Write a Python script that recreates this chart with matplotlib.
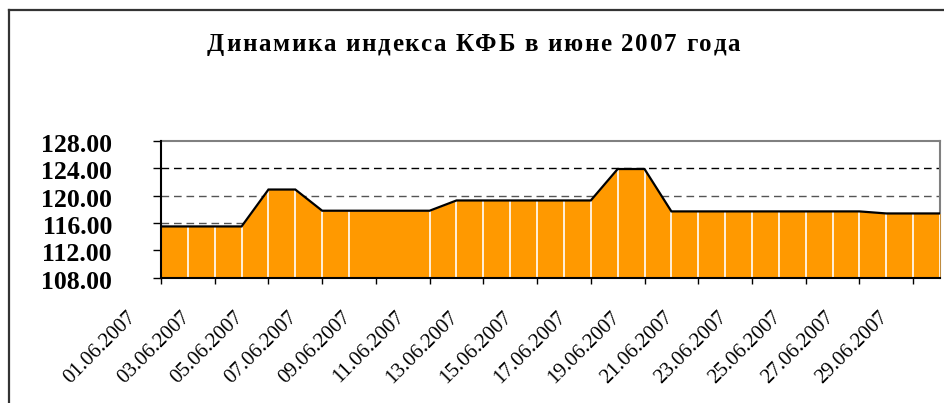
import numpy as np
import matplotlib
matplotlib.use("Agg")
import matplotlib.pyplot as plt
from matplotlib.transforms import ScaledTranslation
from matplotlib.lines import Line2D
from matplotlib import font_manager, ft2font
import datetime as dt

title = "Динамика индекса КФБ в июне 2007 года"
dates = ["01.06.2007", "02.06.2007", "03.06.2007", "04.06.2007", "05.06.2007",
         "06.06.2007", "07.06.2007", "08.06.2007", "11.06.2007", "12.06.2007",
         "13.06.2007", "14.06.2007", "15.06.2007", "16.06.2007", "17.06.2007",
         "18.06.2007", "19.06.2007", "20.06.2007", "21.06.2007", "22.06.2007",
         "23.06.2007", "24.06.2007", "25.06.2007", "26.06.2007", "27.06.2007",
         "28.06.2007", "29.06.2007", "30.06.2007"]
values = [115.5, 115.5, 115.5, 115.5, 120.9,
          120.9, 117.8, 117.8, 117.8, 119.3,
          119.3, 119.3, 119.3, 119.3, 119.3,
          123.9, 123.9, 117.7, 117.7, 117.7,
          117.7, 117.7, 117.7, 117.7, 117.7,
          117.4, 117.4, 117.4]
yticks = [108, 112, 116, 120, 124, 128]
tick_dates = ["01.06.2007", "03.06.2007", "05.06.2007", "07.06.2007", "09.06.2007",
              "11.06.2007", "13.06.2007", "15.06.2007", "17.06.2007", "19.06.2007",
              "21.06.2007", "23.06.2007", "25.06.2007", "27.06.2007", "29.06.2007"]

def to_dt(s):
    return dt.datetime.strptime(s, "%d.%m.%Y")

x = [to_dt(s) for s in dates]
xt = [to_dt(s) for s in tick_dates]

W, H = 944, 403
DPI = 100
fig = plt.figure(figsize=(W / DPI, H / DPI), dpi=DPI)
fig.patch.set_facecolor("white")

ax = fig.add_axes([161 / W, 1 - 277.7 / H, (940 - 161) / W, (277.7 - 141) / H])
ax.set_xlim(to_dt("01.06.2007"), to_dt("30.06.2007"))
ax.set_ylim(108, 128)

ax.fill_between(x, 108, values, color="#FF9900", lw=0, zorder=3)
ax.vlines(x, 108, values, color="white", lw=1.2, zorder=4)
ax.plot(x, values, color="black", lw=1.6, zorder=5, solid_joinstyle="miter")

ax.set_yticks(yticks)
ax.set_yticklabels([f"{v:.2f}" for v in yticks], fontfamily="Liberation Serif",
                   fontweight="bold", fontsize=18.5)
ax.tick_params(axis="y", length=5.8, width=1, pad=29.5, color="black")
yoff = ScaledTranslation(0, -2 / DPI, fig.dpi_scale_trans)
for lab in ax.get_yticklabels():
    lab.set_transform(lab.get_transform() + yoff)

ax.set_xticks(xt)
ax.set_xticklabels(tick_dates, fontfamily="Liberation Serif", fontsize=15,
                   rotation=45, ha="right", va="top")
ax.tick_params(axis="x", length=4.5, width=1, pad=17, color="black")
offset = ScaledTranslation(-21 / DPI, 0, fig.dpi_scale_trans)
for lab in ax.get_xticklabels():
    lab.set_transform(lab.get_transform() + offset)

ax.yaxis.grid(True, linestyle=(0, (5.5, 3.5)), lw=1, zorder=1)
ax.set_axisbelow(True)
gcols = {124: "#000000", 120: "#555555", 116: "#555555"}
for v, gl in zip(yticks, ax.get_ygridlines()):
    if v in gcols:
        gl.set_color(gcols[v])
    else:
        gl.set_visible(False)

for side in ["left", "bottom"]:
    ax.spines[side].set_color("black")
    ax.spines[side].set_linewidth(1.5)
    ax.spines[side].set_zorder(6)
for side in ["top", "right"]:
    ax.spines[side].set_color("#808080")
    ax.spines[side].set_linewidth(1.5)
    ax.spines[side].set_zorder(2)

# Title with letter spacing (as in the reference)
tsize = 18
fp = font_manager.FontProperties(family="Liberation Serif", weight="bold")
fpath = font_manager.findfont(fp)
f = ft2font.FT2Font(fpath)
f.set_size(tsize, DPI)
advs = [f.load_char(ord(c)).linearHoriAdvance / 65536.0 for c in title]
target_w = 533.0
extra = (target_w - sum(advs)) / (len(title) - 1)
total = sum(advs) + extra * (len(title) - 1)
xc = 473.5
xpos = xc - total / 2
baseline = 50.7
for c, a in zip(title, advs):
    if c != " ":
        fig.text(xpos / W, 1 - baseline / H, c, ha="left", va="baseline",
                 fontproperties=fp, fontsize=tsize)
    xpos += a + extra

fig.add_artist(Line2D([8.5 / W, 8.5 / W], [-0.1, 1 - 10 / H], transform=fig.transFigure,
                      color="#333333", lw=1.6))
fig.add_artist(Line2D([8.5 / W, 1.1], [1 - 10 / H, 1 - 10 / H], transform=fig.transFigure,
                      color="#333333", lw=1.6))

fig.savefig("out.png", dpi=DPI)
